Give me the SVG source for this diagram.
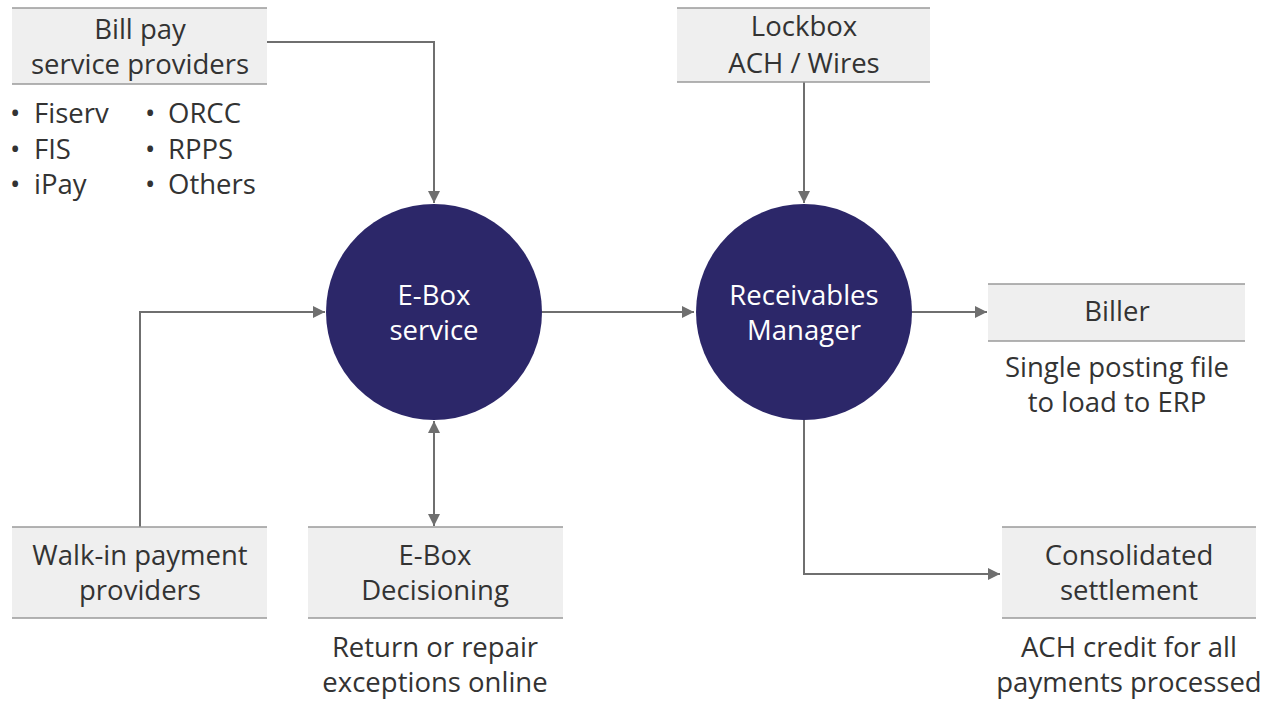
<svg xmlns="http://www.w3.org/2000/svg" width="1272" height="702" viewBox="0 0 1272 702">
<style>
.box{fill:#efefef}
.rule{stroke:#9a9a9a;stroke-width:1.5}
.t{font-family:"Open Sans","Noto Sans",sans-serif;font-size:27.5px;fill:#333;text-anchor:middle}
.tl{font-family:"Open Sans","Noto Sans",sans-serif;font-size:27.5px;fill:#333}
.w{font-family:"Open Sans","Noto Sans",sans-serif;font-size:27.5px;fill:#fff;text-anchor:middle}
.c{fill:#2c2769}
.ln{stroke:#6f6f6f;stroke-width:2;fill:none}
</style>
<defs>
<marker id="ah" viewBox="0 0 10 10" refX="10" refY="5" markerWidth="6" markerHeight="6" markerUnits="strokeWidth" orient="auto-start-reverse">
<path d="M0,0 L10,5 L0,10 z" fill="#6f6f6f"/>
</marker>
</defs>
<rect width="1272" height="702" fill="#fff"/>

<g id="connectors">
<path class="ln" d="M267,42 H434 V203" marker-end="url(#ah)"/>
<path class="ln" d="M804,82 V203" marker-end="url(#ah)"/>
<path class="ln" d="M140,527 V312 H325" marker-end="url(#ah)"/>
<path class="ln" d="M542,312 H694" marker-end="url(#ah)"/>
<path class="ln" d="M912,312 H987" marker-end="url(#ah)"/>
<path class="ln" d="M434,421 V526" marker-start="url(#ah)" marker-end="url(#ah)"/>
<path class="ln" d="M804,420 V574 H1000" marker-end="url(#ah)"/>
</g>

<g id="billpay">
<rect class="box" x="12" y="8" width="255" height="76"/>
<line class="rule" x1="12" y1="8" x2="267" y2="8"/>
<line class="rule" x1="12" y1="84" x2="267" y2="84"/>
<text class="t" x="140" y="39">Bill pay</text>
<text class="t" x="140" y="74">service providers</text>
<text class="tl" x="10" y="123">•</text>
<text class="tl" x="10" y="159">•</text>
<text class="tl" x="10" y="194">•</text>
<text class="tl" x="34" y="123">Fiserv</text>
<text class="tl" x="34" y="159">FIS</text>
<text class="tl" x="34" y="194">iPay</text>
<text class="tl" x="145" y="123">•</text>
<text class="tl" x="145" y="159">•</text>
<text class="tl" x="145" y="194">•</text>
<text class="tl" x="168" y="123">ORCC</text>
<text class="tl" x="168" y="159">RPPS</text>
<text class="tl" x="168" y="194">Others</text>
</g>

<g id="lockbox">
<rect class="box" x="677" y="8" width="253" height="74"/>
<line class="rule" x1="677" y1="8" x2="930" y2="8"/>
<line class="rule" x1="677" y1="82" x2="930" y2="82"/>
<text class="t" x="804" y="36">Lockbox</text>
<text class="t" x="804" y="73">ACH / Wires</text>
</g>

<g id="ebox">
<circle class="c" cx="434" cy="312" r="108"/>
<text class="w" x="434" y="305">E-Box</text>
<text class="w" x="434" y="340">service</text>
</g>

<g id="receivables">
<circle class="c" cx="804" cy="312" r="108"/>
<text class="w" x="804" y="305">Receivables</text>
<text class="w" x="804" y="340">Manager</text>
</g>

<g id="biller">
<rect class="box" x="988" y="284" width="257" height="57"/>
<line class="rule" x1="988" y1="284" x2="1245" y2="284"/>
<line class="rule" x1="988" y1="341" x2="1245" y2="341"/>
<text class="t" x="1117" y="321">Biller</text>
<text class="t" x="1117" y="377">Single posting file</text>
<text class="t" x="1117" y="412">to load to ERP</text>
</g>

<g id="walkin">
<rect class="box" x="12" y="527" width="255" height="91"/>
<line class="rule" x1="12" y1="527" x2="267" y2="527"/>
<line class="rule" x1="12" y1="618" x2="267" y2="618"/>
<text class="t" x="140" y="565">Walk-in payment</text>
<text class="t" x="140" y="600">providers</text>
</g>

<g id="decisioning">
<rect class="box" x="308" y="527" width="255" height="91"/>
<line class="rule" x1="308" y1="527" x2="563" y2="527"/>
<line class="rule" x1="308" y1="618" x2="563" y2="618"/>
<text class="t" x="435" y="565">E-Box</text>
<text class="t" x="435" y="600">Decisioning</text>
<text class="t" x="435" y="657">Return or repair</text>
<text class="t" x="435" y="692">exceptions online</text>
</g>

<g id="consolidated">
<rect class="box" x="1002" y="527" width="254" height="91"/>
<line class="rule" x1="1002" y1="527" x2="1256" y2="527"/>
<line class="rule" x1="1002" y1="618" x2="1256" y2="618"/>
<text class="t" x="1129" y="565">Consolidated</text>
<text class="t" x="1129" y="600">settlement</text>
<text class="t" x="1129" y="657">ACH credit for all</text>
<text class="t" x="1129" y="692">payments processed</text>
</g>
</svg>
